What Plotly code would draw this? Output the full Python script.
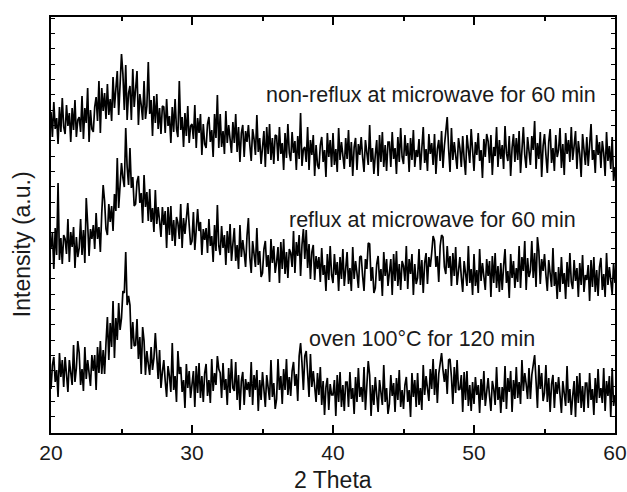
import plotly.graph_objects as go

# 2-theta scan grid
THETA_START = 20.0
THETA_STEP = 0.1

# intensities (a.u., stacked offsets as drawn)
non_reflux = [
    321,296,331,304,315,289,326,301,335,306,
    299,328,307,320,291,325,303,333,296,313,
    316,301,337,294,325,310,345,291,323,304,
    301,326,336,312,352,300,345,322,340,314,
    349,318,334,312,356,325,344,362,318,349,
    379,359,323,368,313,340,347,313,364,326,
    345,362,308,339,328,313,352,314,327,371,
    319,333,297,337,310,339,304,325,299,327,
    326,300,334,307,317,290,326,301,334,304,
    296,352,303,316,286,320,297,327,290,307,
    309,294,328,285,315,300,319,278,309,289,
    285,309,316,291,303,276,319,295,338,285,
    319,286,302,279,322,290,308,295,280,311,
    290,319,281,306,271,300,308,276,302,291,
    308,288,272,304,294,278,318,281,295,269,
    287,302,266,306,279,309,273,295,269,298,
    297,272,306,279,290,263,300,275,309,280,
    272,301,280,292,263,297,274,320,267,284,
    286,271,306,263,293,278,298,257,288,268,
    264,288,296,271,283,256,300,276,293,266,
    300,268,284,261,305,273,291,279,264,295,
    274,303,266,291,257,286,295,263,289,278,
    296,276,261,293,283,268,308,271,285,259,
    278,293,257,298,271,301,266,288,262,291,
    291,266,301,274,285,259,296,271,305,276,
    269,298,277,290,261,295,273,303,266,283,
    276,294,263,288,306,270,284,262,299,279,
    290,268,299,259,284,293,272,302,265,287,
    300,316,284,261,305,273,291,279,264,295,
    285,266,297,274,258,298,279,270,304,276,
    262,291,278,300,272,283,255,294,276,299,
    292,270,298,258,286,277,306,266,293,274,
    288,264,307,280,272,297,257,285,299,271,
    295,273,302,260,287,306,278,265,296,281,
    268,297,283,312,264,290,274,301,256,287,
    299,278,260,291,304,270,285,262,298,276,
    283,305,265,289,258,300,279,293,271,306,
    273,287,302,264,292,279,256,299,285,268,
    296,267,288,309,273,283,260,298,278,291,
    265,292,280,257,301,272,287,264,296,252,
    266,
]

reflux = [
    185,200,164,205,178,250,173,195,169,198,
    194,179,214,171,201,186,206,165,196,176,
    185,214,178,203,170,235,209,177,204,194,
    208,184,220,194,206,181,220,248,232,204,
    198,229,211,227,202,239,222,275,225,250,
    270,255,246,305,266,248,285,245,256,227,
    229,251,257,230,240,210,258,226,241,212,
    244,211,225,201,243,209,226,212,196,226,
    208,222,185,226,198,227,192,213,187,216,
    210,194,229,185,215,199,219,230,208,188,
    192,221,183,208,224,202,211,178,204,193,
    205,180,214,187,197,171,208,182,228,187,
    178,207,185,198,168,202,180,209,172,189,
    205,172,188,164,208,176,193,181,166,197,
    215,176,160,192,181,166,205,168,182,156,
    160,184,192,166,178,151,194,170,187,160,
    171,186,150,191,164,194,159,181,155,184,
    180,166,202,160,191,177,198,157,188,204,
    174,203,165,189,154,181,188,153,177,164,
    176,151,185,158,168,142,179,153,187,158,
    150,179,158,171,142,176,154,184,147,164,
    181,149,165,142,186,154,172,160,145,176,
    177,157,142,174,164,190,189,152,166,140,
    145,169,177,152,164,137,181,157,174,147,
    159,174,138,179,152,182,147,169,143,172,
    167,152,187,144,174,159,179,138,169,149,
    155,184,148,173,140,170,180,149,176,166,
    180,197,192,166,177,151,187,198,196,166,
    159,187,165,177,147,180,157,186,148,164,
    176,156,141,172,162,147,187,150,164,138,
    179,147,163,140,184,152,170,158,143,174,
    157,172,136,177,150,180,145,167,141,170,
    143,167,184,150,162,135,179,155,172,145,
    165,151,187,145,176,162,192,143,175,156,
    162,192,155,180,146,196,182,149,174,162,
    179,158,142,173,162,146,185,147,161,134,
    166,141,176,149,160,134,171,146,180,151,
    144,173,152,165,136,170,148,178,141,158,
    153,168,132,173,146,176,141,163,137,166,
    175,143,159,136,180,148,166,154,139,170,
    150,
]

oven = [
    44,68,76,51,63,36,80,56,73,46,
    76,56,41,73,63,48,88,51,65,92,
    80,48,64,42,86,54,73,61,47,78,
    62,78,43,86,60,92,59,83,59,90,
    116,73,110,86,132,75,115,93,130,103,
    115,142,140,181,128,137,128,84,111,87,
    88,114,74,96,59,106,92,58,82,69,
    58,86,63,75,100,77,54,83,45,61,
    73,52,36,67,57,41,90,43,57,31,
    82,59,66,41,53,25,69,45,62,35,
    47,62,26,67,40,70,35,57,31,60,
    69,37,53,30,74,42,60,48,77,64,
    60,35,70,43,54,28,65,40,74,45,
    42,71,33,58,23,52,61,28,54,43,
    51,36,71,28,58,43,63,22,53,33,
    61,41,26,58,48,33,73,36,50,24,
    34,74,43,57,29,64,43,74,38,56,
    37,62,71,47,59,32,77,90,70,43,
    77,82,60,36,79,46,62,48,31,60,
    38,66,28,52,18,46,55,23,49,38,
    38,53,17,58,31,61,26,48,22,51,
    51,26,61,34,45,19,56,31,65,36,
    46,31,66,23,53,72,58,17,48,28,
    56,36,21,53,43,28,68,31,45,19,
    29,58,37,50,21,55,33,63,26,43,
    24,48,56,31,43,16,60,36,53,26,
    60,28,45,23,68,38,57,46,32,64,
    44,74,38,64,30,59,69,80,63,51,
    64,39,73,74,56,29,66,40,73,43,
    44,58,21,61,33,62,27,48,22,51,
    29,56,38,48,20,54,33,62,27,44,
    55,37,22,52,44,28,66,33,46,20,
    46,31,67,24,55,41,62,21,53,34,
    66,35,51,29,73,42,60,49,34,65,
    34,58,66,78,52,25,68,44,60,32,
    40,68,31,55,21,49,58,25,51,39,
    56,36,20,52,42,27,67,30,44,18,
    37,52,16,57,30,60,25,47,21,50,
    50,25,60,33,44,18,55,30,64,35,
    45,30,65,22,52,37,57,16,65,27,
    38,
]

series = [non_reflux, reflux, oven]
labels = ["non-reflux at microwave for 60 min",
          "reflux at microwave for 60 min",
          "oven 100°C for 120 min"]
label_x = [58.8, 57.4, 54.5]
label_y = [338, 213, 94]

x_ticks = [20, 30, 40, 50, 60]
x_title = "2 Theta"
y_title = "Intensity (a.u.)"

FONT = "Arial, Liberation Sans, Helvetica, sans-serif"

fig = go.Figure()
for ys in series:
    xs = [round(THETA_START + THETA_STEP * i, 2) for i in range(len(ys))]
    fig.add_trace(go.Scatter(x=xs, y=ys, mode="lines",
                             line=dict(color="#000000", width=1.7),
                             showlegend=False, hoverinfo="skip"))

for t, lx, ly in zip(labels, label_x, label_y):
    fig.add_annotation(x=lx, y=ly, xref="x", yref="y", text=t, showarrow=False,
                       xanchor="right", yanchor="middle",
                       font=dict(family=FONT, size=21.5, color="#1a1a1a"))

fig.add_annotation(x=0.5, y=-0.113, xref="paper", yref="paper", text=x_title,
                   showarrow=False, xanchor="center", yanchor="middle",
                   font=dict(family=FONT, size=23, color="#1a1a1a"))
fig.add_annotation(x=-0.0514, y=0.454, xref="paper", yref="paper", text=y_title,
                   showarrow=False, textangle=-90, xanchor="center", yanchor="middle",
                   font=dict(family=FONT, size=23, color="#1a1a1a"))

fig.update_layout(
    width=627, height=492,
    margin=dict(l=51, r=12, t=17, b=59, pad=0, autoexpand=False),
    paper_bgcolor="white", plot_bgcolor="white",
    xaxis=dict(range=[20, 60], tickvals=x_ticks, ticks="inside", ticklen=8,
               tickwidth=1.5, tickcolor="black", showline=True, linewidth=2,
               linecolor="black", mirror="allticks", showgrid=False, zeroline=False,
               automargin=False,
               minor=dict(ticks="inside", ticklen=4, dtick=5, tickwidth=1.5,
                          tickcolor="black", showgrid=False),
               tickfont=dict(family=FONT, size=21, color="#1a1a1a")),
    yaxis=dict(range=[0, 416], showticklabels=False, ticks="inside", ticklen=4,
               tickwidth=1.2, tickcolor="black", tick0=16.3, dtick=15.33,
               showline=True, linewidth=2, linecolor="black", mirror="allticks",
               showgrid=False, zeroline=False, automargin=False),
)

fig.write_html("out.html")
